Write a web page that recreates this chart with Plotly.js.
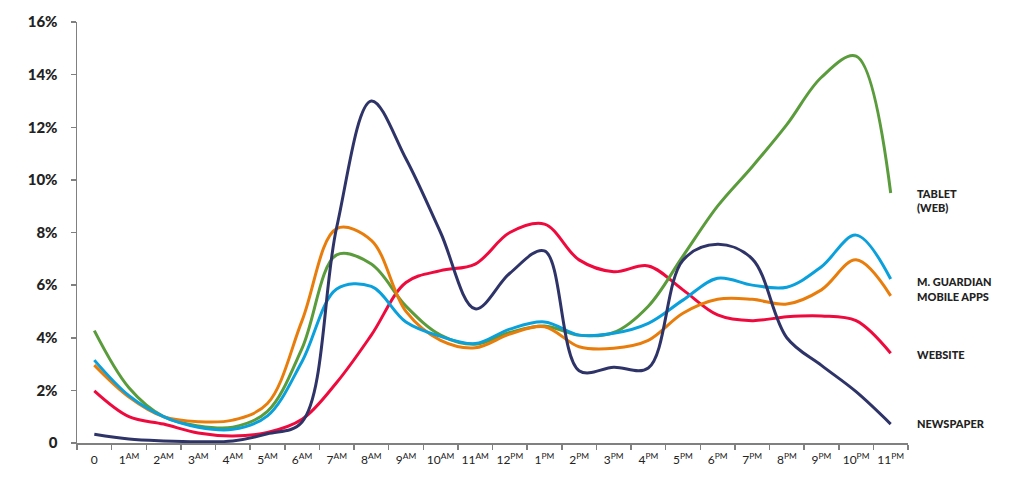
<!DOCTYPE html>
<html>
<head>
<meta charset="utf-8">
<script src="https://cdn.plot.ly/plotly-3.0.1.min.js"></script>
<style>
  html, body { margin: 0; padding: 0; background: #fff; }
  #chart { width: 1016px; height: 500px; }
</style>
</head>
<body>
<div id="chart"></div>
<script>
const hours = ["0","1<sup>AM</sup>","2<sup>AM</sup>","3<sup>AM</sup>","4<sup>AM</sup>","5<sup>AM</sup>","6<sup>AM</sup>","7<sup>AM</sup>","8<sup>AM</sup>","9<sup>AM</sup>","10<sup>AM</sup>","11<sup>AM</sup>",
  "12<sup>PM</sup>","1<sup>PM</sup>","2<sup>PM</sup>","3<sup>PM</sup>","4<sup>PM</sup>","5<sup>PM</sup>","6<sup>PM</sup>","7<sup>PM</sup>","8<sup>PM</sup>","9<sup>PM</sup>","10<sup>PM</sup>","11<sup>PM</sup>"];

const tablet    = [4.27,2.1,1.0,0.65,0.6,1.2,3.6,7.15,6.8,5.2,4.1,3.75,4.2,4.45,4.1,4.2,5.2,7.1,9.0,10.5,12.1,13.9,14.7,9.5];
const mGuardian = [3.15,1.8,1.0,0.6,0.52,1.03,3.1,5.85,5.95,4.6,4.05,3.78,4.33,4.6,4.1,4.17,4.55,5.43,6.26,6.0,5.92,6.7,7.9,6.23];
const mobileApps= [2.96,1.75,1.0,0.81,0.87,1.5,4.65,8.15,7.7,5.0,3.9,3.62,4.14,4.42,3.66,3.6,3.9,4.93,5.46,5.46,5.28,5.82,6.96,5.59];
const website   = [1.98,1.0,0.72,0.38,0.27,0.4,0.9,2.3,4.1,6.1,6.55,6.8,8.0,8.32,6.96,6.51,6.73,5.82,4.87,4.65,4.8,4.83,4.65,3.41];
const newspaper = [0.33,0.15,0.08,0.05,0.08,0.35,0.8,8.2,13.0,10.8,8.0,5.1,6.45,7.3,2.75,2.88,2.85,6.95,7.55,7.0,4.0,2.95,1.95,0.72];

const yTickVals = [0,2,4,6,8,10,12,14,16];
const yTickText = ["0","2%","4%","6%","8%","10%","12%","14%","16%"];

const seriesNames = ["TABLET<br>(WEB)","M. GUARDIAN","MOBILE APPS","WEBSITE","NEWSPAPER"];
const seriesData = [tablet, mGuardian, mobileApps, website, newspaper];
const colors = ["#5a9b3b","#0aa0dc","#e97d0c","#ef0a3d","#2e3368"];
const labelY = [9.2, 6.15, 5.55, 3.38, 0.76];

const traces = seriesData.map((d, i) => ({
  x: hours,
  y: d,
  type: "scatter",
  mode: "lines",
  line: { color: colors[i], width: 3, shape: "spline", smoothing: 1 },
  hoverinfo: "skip",
  showlegend: false
}));
const order = [3, 0, 2, 1, 4];
const orderedTraces = order.map(i => traces[i]);

const annotations = seriesNames.map((n, i) => ({
  xref: "paper", yref: "y",
  x: 1.0085, y: labelY[i],
  xanchor: "left", yanchor: "middle",
  text: n, showarrow: false, align: "left",
  font: { family: "Lato, Roboto, sans-serif", size: 11, color: "#222", weight: 900 }
}));

const layout = {
  width: 1016, height: 500,
  margin: { l: 77, r: 108, t: 22, b: 57 },
  paper_bgcolor: "#fff", plot_bgcolor: "#fff",
  xaxis: {
    type: "category",
    tickson: "boundaries",
    range: [-0.5, 23.5],
    tickangle: 0,
    showgrid: false, zeroline: false,
    showline: true, linecolor: "#808080", linewidth: 1.5,
    ticks: "outside", ticklen: 5, tickcolor: "#808080", tickwidth: 1.5,
    ticklabelstandoff: 5,
    tickfont: { family: "Lato, Roboto, sans-serif", size: 12, color: "#222" },
    fixedrange: true
  },
  yaxis: {
    range: [0, 16],
    tickvals: yTickVals, ticktext: yTickText,
    showgrid: false, zeroline: false,
    showline: true, linecolor: "#808080", linewidth: 1.5,
    ticks: "outside", ticklen: 5, tickcolor: "#808080", tickwidth: 1.5,
    ticklabelstandoff: 10,
    tickfont: { family: "Lato, Roboto, sans-serif", size: 15, color: "#222", weight: 900 },
    fixedrange: true
  },
  annotations: annotations
};

Plotly.newPlot("chart", orderedTraces, layout, { displayModeBar: false, staticPlot: true });
</script>
</body>
</html>
